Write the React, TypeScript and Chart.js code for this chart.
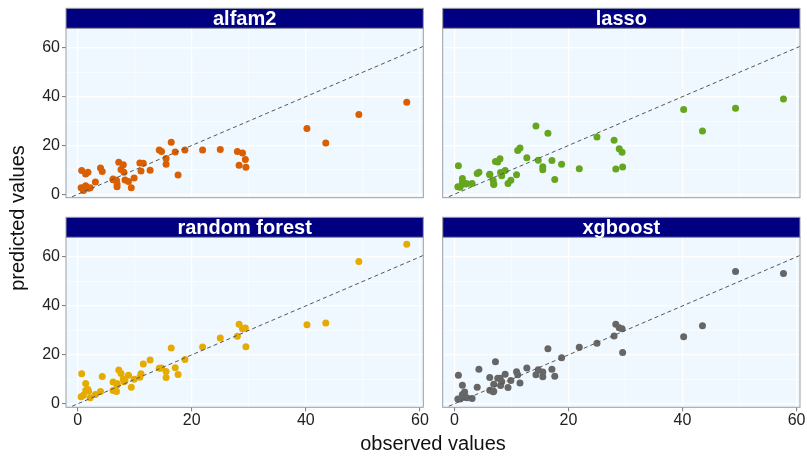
import React, { useEffect, useRef } from "react";
import { Chart, registerables } from "chart.js";
Chart.register(...registerables);

// ---- data ----
const observed = [0.7, 0.6, 1.0, 1.4, 1.4, 1.8, 1.9, 2.2, 3.1, 4.0, 4.3, 6.2, 6.2, 6.8, 6.9, 6.9, 7.2, 7.6, 8.0, 8.1, 8.3, 8.9, 9.4, 9.9, 10.9, 11.1, 11.5, 12.7, 14.3, 14.7, 15.5, 15.5, 16.4, 17.1, 17.6, 18.8, 21.9, 25.0, 28.0, 28.3, 28.9, 29.4, 29.5, 40.2, 43.5, 49.3, 57.7];
const predAlfam2 = [9.7, 2.7, 1.5, 8.3, 3.5, 9.0, 2.5, 2.7, 5.0, 10.8, 9.3, 6.3, 6.0, 5.7, 4.2, 3.1, 13.1, 10.2, 12.1, 9.0, 5.9, 5.2, 2.7, 6.7, 12.8, 9.5, 12.7, 9.8, 18.1, 17.5, 14.7, 12.3, 21.3, 17.3, 7.9, 18.1, 18.1, 18.3, 17.5, 11.9, 16.9, 14.3, 11.1, 26.9, 21.0, 32.7, 37.7];
const predLasso = [11.7, 3.1, 2.9, 6.5, 4.8, 4.5, 4.2, 4.3, 4.4, 8.5, 9.0, 8.2, 8.0, 5.7, 4.0, 4.2, 13.4, 13.2, 14.6, 8.9, 7.6, 9.7, 4.4, 5.7, 8.0, 17.9, 19.0, 15.0, 28.0, 13.9, 11.3, 10.0, 25.0, 13.8, 6.1, 12.3, 10.5, 23.5, 22.1, 10.4, 18.7, 17.2, 11.2, 34.7, 25.9, 35.2, 39.0];
const predRandomForest = [12.3, 2.9, 3.5, 8.3, 5.5, 5.9, 5.2, 2.5, 3.8, 5.0, 11.2, 8.9, 5.5, 5.0, 8.3, 7.6, 13.8, 12.4, 10.2, 9.0, 9.4, 11.7, 6.8, 10.0, 10.9, 12.3, 16.3, 17.9, 14.5, 14.6, 13.2, 10.8, 22.8, 14.7, 12.0, 18.1, 23.2, 26.9, 27.6, 32.5, 30.7, 31.0, 23.3, 32.3, 33.0, 58.1, 65.2];
const predXgboost = [11.7, 2.0, 2.0, 7.6, 3.8, 4.8, 2.7, 2.5, 2.2, 6.8, 14.1, 10.8, 5.6, 4.9, 8.0, 5.2, 17.2, 10.5, 10.5, 7.5, 9.0, 12.1, 6.7, 9.5, 13.1, 11.9, 8.5, 14.6, 11.9, 13.9, 13.0, 11.1, 22.5, 14.1, 11.3, 18.8, 23.1, 24.7, 27.7, 32.5, 31.1, 30.7, 21.0, 27.4, 31.9, 54.0, 53.2];

const panelTitles = ["alfam2", "lasso", "random forest", "xgboost"];
const panelPredictions = [predAlfam2, predLasso, predRandomForest, predXgboost];
const panelColors = ["#D95F02", "#66A61E", "#E6AB02", "#666666"];
const majorTicks = [0, 20, 40, 60];
const gridValues = [0, 10, 20, 30, 40, 50, 60];
const refLine = [-10, 80];
const xTitle = "observed values";
const yTitle = "predicted values";

// ---- layout ----
const W = 807;
const H = 457;
const X_MIN = -2.05, X_MAX = 60.6, Y_MIN = -1.4, Y_MAX = 68.0;
const FONT = "'Liberation Sans', Arial, Helvetica, sans-serif";
const XAXIS_H = 30;
const YAXIS_W = 66;

const panelLayouts = [
  { left: 66, right: 423.3, stripTop: 8.3, top: 28.3, bottom: 197.7, showX: false, showY: true },
  { left: 442.7, right: 800, stripTop: 8.3, top: 28.3, bottom: 197.7, showX: false, showY: false },
  { left: 66, right: 423.3, stripTop: 217.3, top: 237.3, bottom: 407.3, showX: true, showY: true },
  { left: 442.7, right: 800, stripTop: 217.3, top: 237.3, bottom: 407.3, showX: true, showY: false },
];

const decorPlugin = {
  id: "panelDecor",
  beforeDraw(chart: any) {
    const { ctx, chartArea: a } = chart;
    ctx.save();
    ctx.fillStyle = "#F0F8FF";
    ctx.fillRect(a.left, a.top, a.right - a.left, a.bottom - a.top);
    ctx.restore();
  },
  afterDraw(chart: any, _a: any, opts: any) {
    const { ctx, chartArea: a } = chart;
    ctx.save();
    ctx.strokeStyle = "#9A9FA5";
    ctx.lineWidth = 1;
    ctx.strokeRect(a.left, a.top, a.right - a.left, a.bottom - a.top);
    // strip
    const st = opts.stripTop;
    ctx.fillStyle = "#000080";
    ctx.fillRect(a.left, st, a.right - a.left, a.top - st);
    ctx.strokeRect(a.left, st, a.right - a.left, a.top - st);
    ctx.fillStyle = "#FFFFFF";
    ctx.font = `bold 20px ${FONT}`;
    ctx.textAlign = "center";
    ctx.textBaseline = "middle";
    ctx.fillText(opts.title, (a.left + a.right) / 2, (st + a.top) / 2 + 1);
    if (opts.drawTitles) {
      ctx.fillStyle = "#111";
      ctx.font = `20px ${FONT}`;
      ctx.textAlign = "center";
      ctx.textBaseline = "middle";
      ctx.fillText(xTitle, 433, 444);
      ctx.translate(18, 218);
      ctx.rotate(-Math.PI / 2);
      ctx.fillText(yTitle, 0, 0);
    }
    ctx.restore();
  },
};

function Panel({ idx }: { idx: number }) {
  const ref = useRef<HTMLCanvasElement | null>(null);
  useEffect(() => {
    const L = panelLayouts[idx];
    const color = panelColors[idx];
    const preds = panelPredictions[idx];
    const points = observed.map((x, i) => ({ x, y: preds[i] }));
    const isMajor = (c: any) => c.tick && majorTicks.includes(c.tick.value);
    const chart = new Chart(ref.current as HTMLCanvasElement, {
      type: "scatter",
      data: {
        datasets: [
          {
            type: "line",
            data: refLine.map((v) => ({ x: v, y: v })),
            borderColor: "#555555",
            borderWidth: 1,
            borderDash: [4, 3],
            pointRadius: 0,
            fill: false,
            order: 0,
          } as any,
          {
            data: points,
            backgroundColor: color,
            borderWidth: 0,
            pointRadius: 3.5,
            order: 1,
          },
        ],
      },
      options: {
        responsive: false,
        animation: false,
        devicePixelRatio: 1,
        layout: {
          padding: {
            left: L.showY ? L.left - YAXIS_W : L.left,
            top: L.top,
            right: W - L.right,
            bottom: H - L.bottom - (L.showX ? XAXIS_H : 0),
          },
        },
        plugins: {
          legend: { display: false },
          tooltip: { enabled: false },
          panelDecor: { stripTop: L.stripTop, title: panelTitles[idx], drawTitles: idx === 0 },
        } as any,
        scales: {
          x: {
            type: "linear",
            min: X_MIN,
            max: X_MAX,
            afterBuildTicks: (s: any) => {
              s.ticks = gridValues.map((v) => ({ value: v }));
            },
            afterFit: (s: any) => {
              s.height = L.showX ? XAXIS_H : 0;
            },
            border: { display: false },
            grid: {
              color: "#FFFFFF",
              lineWidth: (c: any) => (isMajor(c) ? 1.2 : 0.6),
              drawTicks: L.showX,
              tickLength: 4,
              tickColor: (c: any) => (isMajor(c) ? "#777777" : "rgba(0,0,0,0)"),
              tickWidth: 1,
            },
            ticks: {
              display: L.showX,
              autoSkip: false,
              maxRotation: 0,
              padding: 0,
              color: "#222222",
              font: { family: FONT, size: 16 },
              callback: (v: any) => (majorTicks.includes(v) ? String(v) : ""),
            },
          },
          y: {
            type: "linear",
            min: Y_MIN,
            max: Y_MAX,
            afterBuildTicks: (s: any) => {
              s.ticks = gridValues.map((v) => ({ value: v }));
            },
            afterFit: (s: any) => {
              s.width = L.showY ? YAXIS_W : 0;
            },
            border: { display: false },
            grid: {
              color: "#FFFFFF",
              lineWidth: (c: any) => (isMajor(c) ? 1.2 : 0.6),
              drawTicks: L.showY,
              tickLength: 4,
              tickColor: (c: any) => (isMajor(c) ? "#777777" : "rgba(0,0,0,0)"),
              tickWidth: 1,
            },
            ticks: {
              display: L.showY,
              autoSkip: false,
              padding: 2,
              color: "#222222",
              font: { family: FONT, size: 16 },
              callback: (v: any) => (majorTicks.includes(v) ? String(v) : ""),
            },
          },
        },
      },
      plugins: [decorPlugin],
    });
    return () => chart.destroy();
  }, [idx]);
  return (
    <canvas
      ref={ref}
      width={W}
      height={H}
      style={{ position: "absolute", left: 0, top: 0, width: W, height: H }}
    />
  );
}

export default function App() {
  return (
    <div style={{ position: "fixed", left: 0, top: 0, width: W, height: H, background: "#FFFFFF" }}>
      {panelTitles.map((_, i) => (
        <Panel key={i} idx={i} />
      ))}
    </div>
  );
}
